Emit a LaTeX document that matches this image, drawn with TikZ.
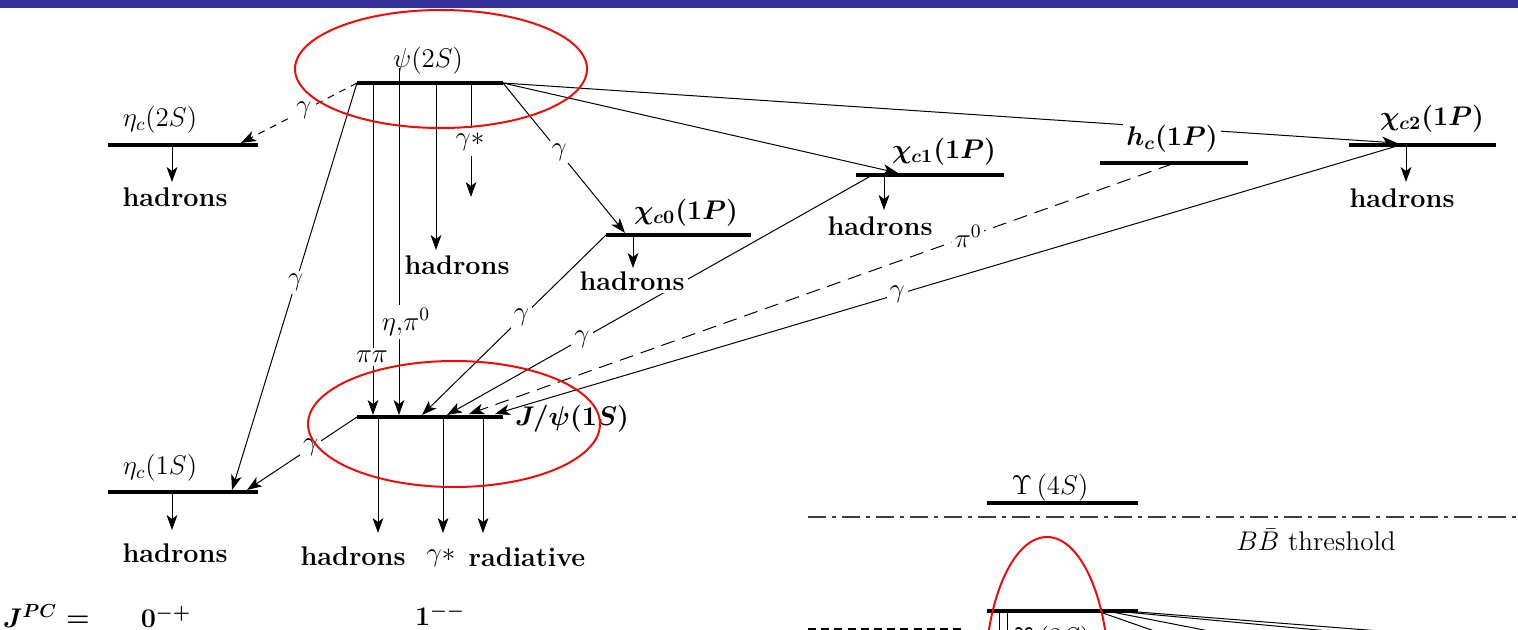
\RequirePackage{fix-cm}
\documentclass[tikz,border=0pt]{standalone}
\usetikzlibrary{arrows.meta}
\definecolor{barblue}{RGB}{51,51,153}
\definecolor{ringred}{RGB}{236,12,12}
\definecolor{thrgray}{RGB}{60,60,60}
\begin{document}
\begin{tikzpicture}[x=0.5pt,y=-0.5pt,
  level/.style={line width=1.8pt},
  decay/.style={line width=0.5pt,-{Stealth[length=7.5pt,width=5.4pt,inset=2pt]}},
  thinline/.style={line width=0.5pt},
  lbl/.style={font=\fontsize{13.5}{16}\selectfont, inner sep=1pt},
  bl/.style={font=\fontsize{13.5}{16}\selectfont\bfseries\boldmath, inner sep=1pt},
  gap/.style={fill=white, inner sep=1.5pt},
  shortdash/.style={dash pattern=on 3.5pt off 3pt},
  longdash/.style={dash pattern=on 7pt off 4pt},
  ring/.style={draw=ringred, line width=1pt}]
\useasboundingbox (0,0) rectangle (1518,630);
\clip (0,0) rectangle (1518,630);
\fill[barblue] (0,0) rectangle (1518,8);

% ---------------- level positions ----------------
\coordinate (psiL) at (357,83);   \coordinate (psiR) at (503,83);
\coordinate (e2L)  at (108,145);  \coordinate (e2R)  at (258,145);
\coordinate (c0L)  at (606,235);  \coordinate (c0R)  at (751,235);
\coordinate (c1L)  at (856,175);  \coordinate (c1R)  at (1004,175);
\coordinate (hcL)  at (1100,163); \coordinate (hcR)  at (1248,163);
\coordinate (c2L)  at (1349,145); \coordinate (c2R)  at (1496,145);
\coordinate (jL)   at (357,417);  \coordinate (jR)   at (503,417);
\coordinate (e1L)  at (108,492);  \coordinate (e1R)  at (258,492);

% ---------------- levels ----------------
\foreach \a/\b in {psiL/psiR,e2L/e2R,c0L/c0R,c1L/c1R,hcL/hcR,c2L/c2R,jL/jR,e1L/e1R}
  \draw[level] (\a) -- (\b);

% ---------------- state names ----------------
\node[lbl] (psiname) at (428,61)  {$\psi(2S)$};
\node[lbl] (e2name)  at (160,120) {$\eta_c(2S)$};
\node[bl]  (c0name)  at (686,213) {$\chi_{c0}(1P)$};
\node[bl]  (c1name)  at (944,152) {$\chi_{c1}(1P)$};
\node[bl]  (c2name)  at (1432,119) {$\chi_{c2}(1P)$};
\node[bl]  (jname)   at (572,419) {$J/\psi(1S)$};
\node[lbl] (e1name)  at (160,468) {$\eta_c(1S)$};

% ---------------- arrow end points ----------------
\coordinate (e2tip)  at (241,143);
\coordinate (c0tip)  at (625,233);
\coordinate (c1tip)  at (898,173);
\coordinate (c2tip)  at (1397,143);
\coordinate (e1tipA) at (232,490);
\coordinate (e1tipB) at (247,490);
\coordinate (jtipA)  at (422,415);
\coordinate (jtipB)  at (447,415);
\coordinate (jtipC)  at (469,414);
\coordinate (jtipD)  at (495,414);
\coordinate (c1src)  at (869,177);
\coordinate (hcsrc)  at (1172,164);
\coordinate (c2src)  at (1397,146);

% ---------------- radiative transitions ----------------
\draw[decay,shortdash] (psiL) -- node[pos=0.46,lbl,gap]{$\gamma$} (e2tip);
\draw[decay] (psiL) -- node[pos=0.49,lbl,gap]{$\gamma$} (e1tipA);
\draw[decay] (psiR) -- node[pos=0.46,lbl,gap]{$\gamma$} (c0tip);
\draw[decay] (psiR) -- (c1tip);
\draw[decay] (psiR) -- (c2tip);
\draw[decay] (jL) -- node[pos=0.42,lbl,gap]{$\gamma$} (e1tipB);
\draw[decay] (c0L) -- node[pos=0.46,lbl,gap]{$\gamma$} (jtipA);
\draw[decay] (c1src) -- node[pos=0.68,lbl,gap]{$\gamma$} (jtipB);
\draw[decay,longdash] (hcsrc) -- node[pos=0.29,lbl,gap]{$\pi^0$} (jtipC);
\draw[decay] (c2src) -- node[pos=0.554,lbl,gap]{$\gamma$} (jtipD);

% ---------------- hadronic transitions psi(2S) -> J/psi ----------------
\coordinate (pipiTop) at (373,84);  \coordinate (pipiEnd) at (373,415);
\coordinate (etaTop)  at (399,68);  \coordinate (etaEnd)  at (399,415);
\draw[decay] (pipiTop) -- (pipiEnd);
\draw[decay] (etaTop) -- (etaEnd);
\node[lbl,gap] (pipi) at (372,357) {$\pi\pi$};
\node[lbl,gap] (etapi) at (406,322) {$\eta,\!\pi^0$};

% ---------------- psi(2S) decays ----------------
\coordinate (hadTop) at (436,84);   \coordinate (hadEnd) at (436,250);
\draw[decay] (hadTop) -- (hadEnd);
\node[bl] (hadPsi) at (457,265) {hadrons};
\coordinate (gsA) at (471,84);  \coordinate (gsB) at (471,128);
\coordinate (gsC) at (471,156); \coordinate (gsD) at (471,197);
\draw[thinline] (gsA) -- (gsB);
\node[lbl] (gstar) at (470,142) {$\gamma{\ast}$};
\draw[decay] (gsC) -- (gsD);

% ---------------- decays to hadrons ----------------
\foreach \n/\x/\ya/\yb/\hx/\hy in {dE2/172/147/182/175/197, dC0/633/237/268/632/281,
    dC1/884/177/210/880/226, dC2/1406/147/182/1402/198, dE1/172/494/530/175/553}{
  \coordinate (\n a) at (\x,\ya);
  \coordinate (\n b) at (\x,\yb);
  \draw[decay] (\n a) -- (\n b);
  \node[bl,gap] (\n h) at (\hx,\hy) {hadrons};
}

% ---------------- J/psi decays ----------------
\foreach \n/\x in {jA/378,jB/443,jC/483}{
  \coordinate (\n a) at (\x,419);
  \coordinate (\n b) at (\x,533);
  \draw[decay] (\n a) -- (\n b);
}
\node[bl] (jhad) at (353,556) {hadrons};
\node[lbl] (jgs)  at (441,558) {$\gamma{\ast}$};
\node[bl] (jrad) at (527,557) {radiative};

% h_c name drawn over the psi(2S) -> chi_c2 line
\node[bl,gap] (hcname) at (1172,139) {$h_c(1P)$};

% ---------------- quantum numbers ----------------
\node[bl] (jpc)  at (30,616)  {$J^{PC}$};
\node[bl] (jpceq) at (78,621) {$=$};
\node[bl] (jpc0) at (166,617) {$0^{-+}$};
\node[bl] (jpc1) at (440,615) {$1^{--}$};

% ---------------- bottomonium corner ----------------
\coordinate (thrL) at (808,517); \coordinate (thrR) at (1520,517);
\draw[thrgray, line width=1.4pt, dash pattern=on 9pt off 3pt on 2pt off 3pt] (thrL) -- (thrR);
\node[lbl] (thrname) at (1316,540) {$B\bar B$~threshold};
\coordinate (u4L) at (987,503); \coordinate (u4R) at (1138,503);
\draw[level] (u4L) -- (u4R);
\node[lbl] (u4name) at (1050,488) {$\Upsilon\,(4S)$};
\coordinate (u3L) at (987,611); \coordinate (u3R) at (1138,611);
\draw[level] (u3L) -- (u3R);
\node[lbl] (u3name) at (1052,640) {$\Upsilon\,(3S)$};
\coordinate (dlvL) at (808,630); \coordinate (dlvR) at (962,630);
\draw[line width=1.8pt, dash pattern=on 4pt off 2.6pt] (dlvL) -- (dlvR);
\coordinate (u3v1a) at (999,612); \coordinate (u3v1b) at (999,640);
\coordinate (u3v2a) at (1007,612); \coordinate (u3v2b) at (1007,640);
\draw[thinline] (u3v1a) -- (u3v1b);
\draw[thinline] (u3v2a) -- (u3v2b);
\coordinate (fanA) at (1100,612);
\coordinate (fanB) at (1112,612);
\coordinate (fanC) at (1125,612);
\coordinate (fanD) at (1138,612);
\coordinate (fA) at (1180,640);
\coordinate (fB) at (1255,640);
\coordinate (fC) at (1372,635);
\coordinate (fD) at (1380,631);
\draw[thinline] (fanA) -- (fA);
\draw[thinline] (fanB) -- (fB);
\draw[thinline] (fanC) -- (fC);
\draw[thinline] (fanD) -- (fD);

% ---------------- highlight rings ----------------
\draw[ring] (441,69) ellipse [x radius=146, y radius=59];
\draw[ring] (454,424) ellipse [x radius=146, y radius=63];
\draw[ring] (1047,680) ellipse [x radius=62, y radius=143];
\end{tikzpicture}
\end{document}
